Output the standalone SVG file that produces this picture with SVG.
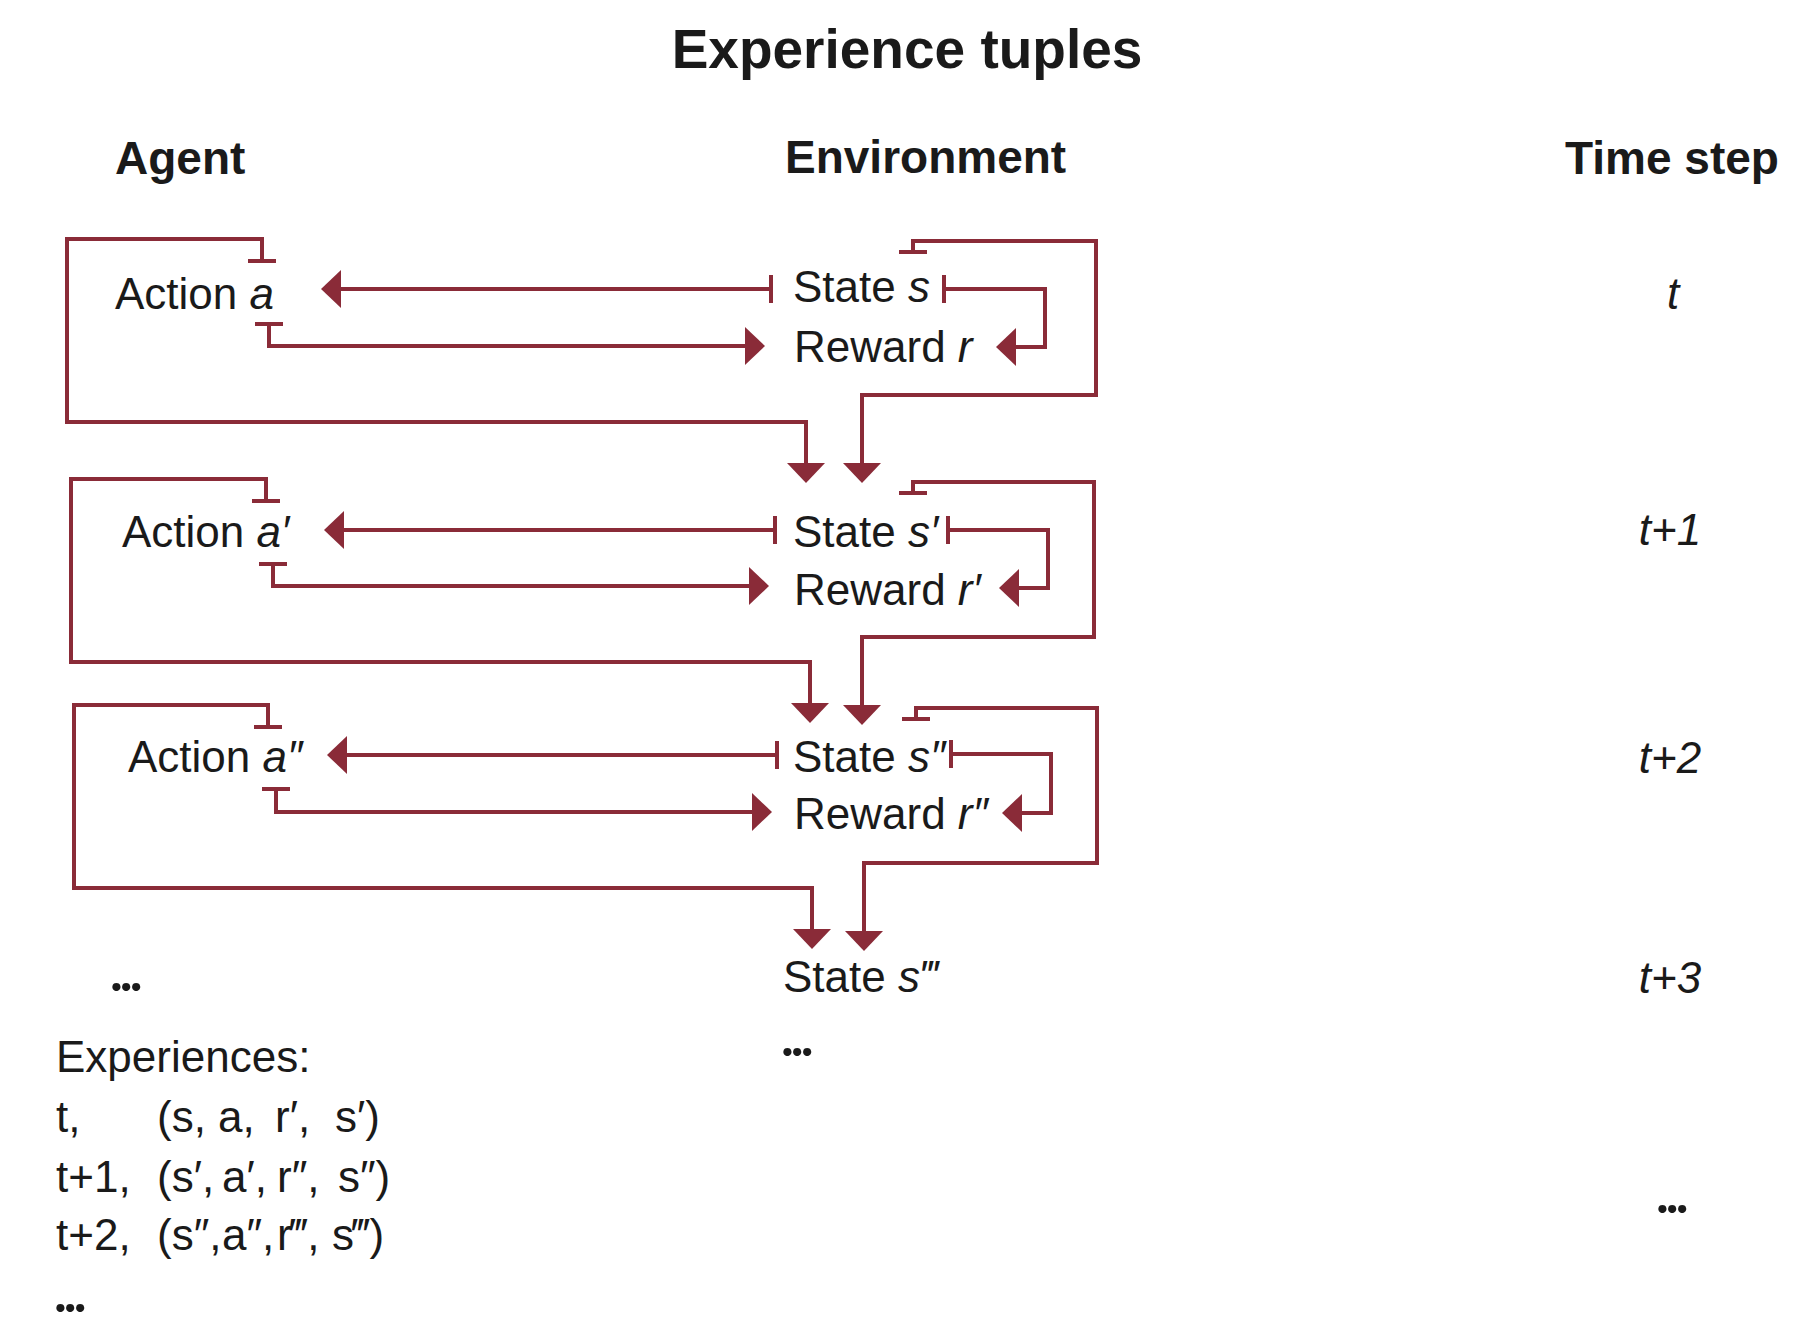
<svg xmlns="http://www.w3.org/2000/svg" width="1812" height="1340" viewBox="0 0 1812 1340">
<style>
text{font-family:"Liberation Sans","Noto Sans",Arial,sans-serif;fill:#1a1a1a;font-size:44px}
.b{font-weight:bold;font-size:46px}
.title{font-weight:bold;font-size:55px}
.it{font-style:italic}
.dots{font-family:Lato,"Liberation Sans",sans-serif;font-weight:bold;font-size:54px;letter-spacing:-3px}
.c{fill:none;stroke:#8a2b38;stroke-width:4;stroke-linejoin:miter;stroke-linecap:butt;marker-start:url(#tb);marker-end:url(#ah)}
</style>
<defs>
<marker id="ah" viewBox="0 -19 20 38" refX="0" refY="0" markerWidth="20" markerHeight="38" markerUnits="userSpaceOnUse" orient="auto">
<path d="M0,-19 L20,0 L0,19 Z" fill="#8a2b38"/>
</marker>
<marker id="tb" viewBox="-2 -14 4 28" refX="0" refY="0" markerWidth="4" markerHeight="28" markerUnits="userSpaceOnUse" orient="auto">
<rect x="-2" y="-14" width="4" height="28" fill="#8a2b38"/>
</marker>
</defs>
<rect width="1812" height="1340" fill="#ffffff"/>
<g id="headers">
<text class="title" x="907" y="68" text-anchor="middle">Experience tuples</text>
<text class="b" x="115" y="174">Agent</text>
<text class="b" x="785" y="173">Environment</text>
<text class="b" x="1565" y="174">Time step</text>
</g>
<g id="connectors">
<path class="c" d="M262,261 V239 H67 V422 H806 V463"/>
<path class="c" d="M771,289 H341"/>
<path class="c" d="M269,324 V346 H745"/>
<path class="c" d="M944,289 H1045 V347 H1016"/>
<path class="c" d="M913,252 V241 H1096 V395 H862 V463"/>
<path class="c" d="M266,501 V479 H71 V662 H810 V703"/>
<path class="c" d="M775,530 H344"/>
<path class="c" d="M273,564 V586 H749"/>
<path class="c" d="M948,530 H1048 V588 H1019"/>
<path class="c" d="M913,493 V482 H1094 V637 H862 V705"/>
<path class="c" d="M268,727 V705 H74 V888 H812 V929"/>
<path class="c" d="M777,755 H347"/>
<path class="c" d="M276,789 V812 H752"/>
<path class="c" d="M951,754 H1051 V813 H1022"/>
<path class="c" d="M916,719 V708 H1097 V863 H864 V931"/>
</g>
<g id="action-a"><text x="115" y="309">Action <tspan class="it">a</tspan></text></g>
<g id="state-s"><text x="793" y="302">State <tspan class="it">s</tspan></text></g>
<g id="reward-r"><text x="794" y="362">Reward <tspan class="it">r</tspan></text></g>
<g id="action-a1"><text x="122" y="547">Action <tspan class="it">a′</tspan></text></g>
<g id="state-s1"><text x="793" y="547">State <tspan class="it">s′</tspan></text></g>
<g id="reward-r1"><text x="794" y="605">Reward <tspan class="it">r′</tspan></text></g>
<g id="action-a2"><text x="128" y="772">Action <tspan class="it">a″</tspan></text></g>
<g id="state-s2"><text x="793" y="772">State <tspan class="it">s″</tspan></text></g>
<g id="reward-r2"><text x="794" y="829">Reward <tspan class="it">r″</tspan></text></g>
<g id="state-s3"><text x="783" y="992">State <tspan class="it">s‴</tspan></text></g>
<g id="env-ellipsis"><text class="dots" x="781" y="1056">...</text></g>
<g id="agent-ellipsis"><text class="dots" x="110" y="991">...</text></g>
<g id="timesteps">
<text class="it" x="1673" y="309" text-anchor="middle">t</text>
<text class="it" x="1670" y="545" text-anchor="middle">t+1</text>
<text class="it" x="1670" y="773" text-anchor="middle">t+2</text>
<text class="it" x="1670" y="993" text-anchor="middle">t+3</text>
<text class="dots" x="1656" y="1213">...</text>
</g>
<g id="experiences">
<text x="56" y="1072">Experiences:</text>
<text y="1132"><tspan x="56">t,</tspan><tspan x="157">(s,</tspan><tspan x="218">a,</tspan><tspan x="275">r′,</tspan><tspan x="335">s′)</tspan></text>
<text y="1192"><tspan x="56">t+1,</tspan><tspan x="157">(s′,</tspan><tspan x="222">a′,</tspan><tspan x="277">r″,</tspan><tspan x="338">s″)</tspan></text>
<text y="1250"><tspan x="56">t+2,</tspan><tspan x="157">(s″,</tspan><tspan x="222">a″,</tspan><tspan x="277">r‴,</tspan><tspan x="332">s‴)</tspan></text>
<text class="dots" x="54" y="1312">...</text>
</g>
</svg>
